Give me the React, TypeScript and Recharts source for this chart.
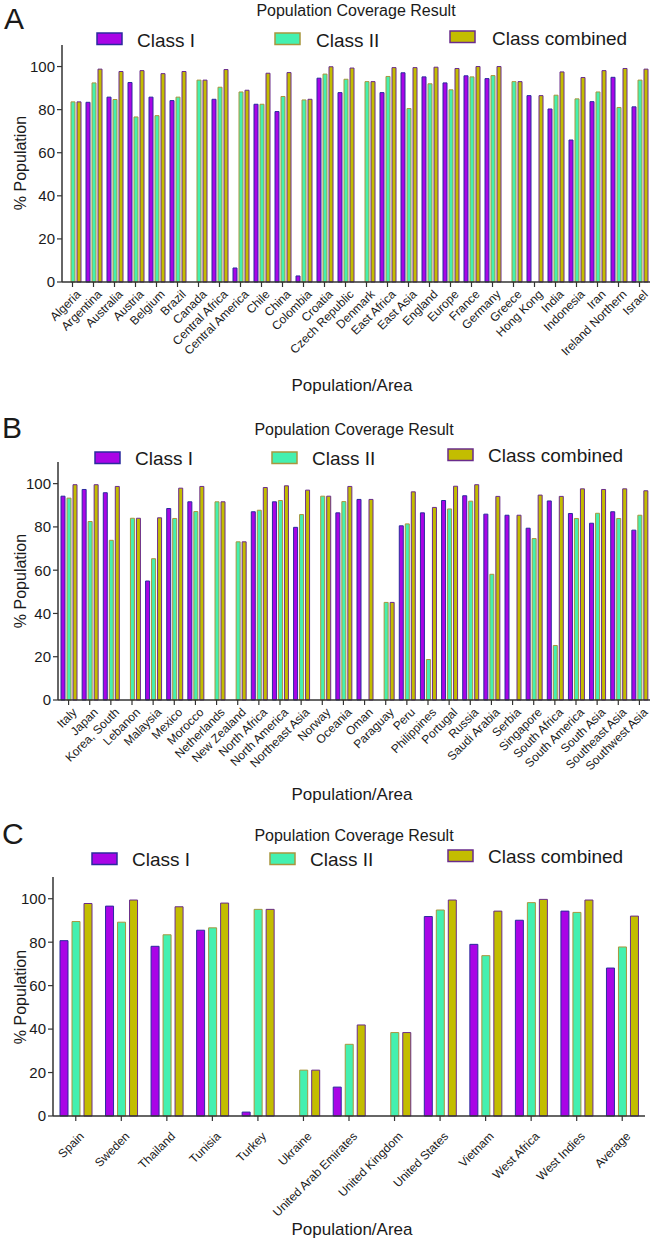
import React from 'react';
import { BarChart, Bar, XAxis, YAxis } from 'recharts';

const categoriesA = ['Algeria','Argentina','Australia','Austria','Belgium','Brazil','Canada','Central Africa','Central America','Chile','China','Colombia','Croatia','Czech Republic','Denmark','East Africa','East Asia','England','Europe','France','Germany','Greece','Hong Kong','India','Indonesia','Iran','Ireland Northern','Israel'];
const classIA = [null,83.4,85.8,92.6,85.8,84.2,null,84.8,6.5,82.5,79.1,2.8,94.6,87.9,null,87.9,97.1,95.2,92.4,95.7,94.4,null,86.5,80.3,65.9,83.7,95.0,81.3];
const classIIA = [83.6,92.4,84.7,76.6,77.2,85.8,93.7,90.4,88.2,82.5,86.1,84.5,96.5,94.1,93.0,95.4,80.5,92.0,89.2,95.2,95.8,93.0,null,86.7,85.0,88.2,81.0,93.7];
const combinedA = [83.6,98.8,97.7,98.1,96.7,97.7,93.7,98.6,89.0,96.9,97.2,84.8,99.9,99.3,93.0,99.5,99.5,99.7,99.1,100,100,93.0,86.5,97.5,94.9,98.1,99.1,98.8];

const categoriesB = ['Italy','Japan','Korea, South','Lebanon','Malaysia','Mexico','Morocco','Netherlands','New Zealand','North Africa','North America','Northeast Asia','Norway','Oceania','Oman','Paraguay','Peru','Philippines','Portugal','Russia','Saudi Arabia','Serbia','Singapore','South Africa','South America','South Asia','Southeast Asia','Southwest Asia'];
const classIB = [94.2,97.3,95.8,null,55.0,88.5,91.6,null,null,87.0,91.6,79.8,null,86.5,92.7,null,80.5,86.5,92.2,94.4,85.9,85.4,79.4,92.0,86.2,81.7,87.0,78.5];
const classIIB = [93.3,82.5,73.8,84.0,65.3,83.9,87.1,91.6,73.1,87.7,92.2,85.7,94.2,91.7,null,45.1,81.4,18.7,88.3,91.9,58.1,null,74.6,25.2,83.9,86.3,83.9,85.4];
const combinedB = [99.5,99.5,98.7,84.0,84.2,97.9,98.7,91.6,73.1,98.2,99.0,97.0,94.2,98.7,92.7,45.1,96.2,89.0,98.8,99.5,94.1,85.4,94.7,94.1,97.6,97.3,97.6,96.7];

const categoriesC = ['Spain','Sweden','Thailand','Tunisia','Turkey','Ukraine','United Arab Emirates','United Kingdom','United States','Vietnam','West Africa','West Indies','Average'];
const classIC = [80.7,96.6,78.1,85.5,1.8,null,13.3,null,91.8,79.0,90.1,94.3,68.1];
const classIIC = [89.5,89.2,83.4,86.6,95.1,21.1,33.0,38.4,94.8,73.8,98.2,93.7,77.8];
const combinedC = [97.8,99.4,96.3,98.0,95.1,21.1,41.9,38.4,99.4,94.3,99.7,99.4,92.0];

const seriesNames = ['Class I', 'Class II', 'Class combined'];
const yTicks = [0, 20, 40, 60, 80, 100];
const chartTitle = 'Population Coverage Result';
const xTitle = 'Population/Area';
const yTitle = '% Population';

const FONT = '"Liberation Sans", Arial, Helvetica, sans-serif';
const TXT = '#1a1a1a';
const STYLES = [
  { key: 'c1', fill: '#A905E6', stroke: '#2B2B9E' },
  { key: 'c2', fill: '#44F0B0', stroke: '#A8963E' },
  { key: 'c3', fill: '#C3BD00', stroke: '#6A2C8C' },
];

function build(cats: string[], a: (number | null)[], b: (number | null)[], c: (number | null)[]) {
  return cats.map((name, i) => ({ name, c1: a[i], c2: b[i], c3: c[i] }));
}

function RotTick(props: any) {
  const { x, y, payload, fs, dy } = props;
  return (
    <g transform={`translate(${x + 3},${y + dy})`}>
      <text textAnchor="end" transform="rotate(-45)" fontSize={fs} fill={TXT} fontFamily={FONT} dy="0.71em">
        {payload.value}
      </text>
    </g>
  );
}

type PanelCfg = {
  top: number; height: number; plotTop: number; zeroY: number; axisX: number; right: number;
  barSize: number; barGap: number; tickFs: number; tickDy: number; data: any[];
};

function Panel({ cfg }: { cfg: PanelCfg }) {
  const xAxisH = cfg.height - (cfg.zeroY - cfg.top);
  return (
    <div style={{ position: 'absolute', left: 0, top: cfg.top }}>
      <BarChart
        width={651}
        height={cfg.height}
        data={cfg.data}
        margin={{ top: cfg.plotTop - cfg.top, right: 651 - cfg.right, bottom: 0, left: 0 }}
        barGap={cfg.barGap}
      >
        <XAxis
          dataKey="name"
          interval={0}
          height={xAxisH}
          tickSize={5}
          tickMargin={2}
          axisLine={{ stroke: '#333', strokeWidth: 1.5 }}
          tickLine={{ stroke: '#333', strokeWidth: 1.2 }}
          tick={(p: any) => <RotTick {...p} fs={cfg.tickFs} dy={cfg.tickDy} />}
        />
        <YAxis
          width={cfg.axisX}
          domain={[0, 110]}
          ticks={yTicks}
          tickSize={5}
          tickMargin={2}
          axisLine={{ stroke: '#333', strokeWidth: 1.5 }}
          tickLine={{ stroke: '#333', strokeWidth: 1.2 }}
          tick={{ fontSize: 15, fill: TXT, fontFamily: FONT }}
        />
        {STYLES.map((s, i) => (
          <Bar key={s.key} dataKey={s.key} name={seriesNames[i]} fill={s.fill} stroke={s.stroke}
            strokeWidth={1} barSize={cfg.barSize} isAnimationActive={false} />
        ))}
      </BarChart>
    </div>
  );
}

type Deco = {
  letter: string; letterX: number; letterY: number;
  titleY: number; titleX: number;
  legend: { sx: number; sy: number; tx: number; ty: number }[];
  xTitleY: number; yTitleCy: number;
};

function Overlay({ decos }: { decos: Deco[] }) {
  return (
    <svg width={651} height={1240} style={{ position: 'absolute', left: 0, top: 0, pointerEvents: 'none' }}>
      {decos.map((d, k) => (
        <g key={k} fontFamily={FONT} fill={TXT}>
          <text x={d.letterX} y={d.letterY} fontSize={30}>{d.letter}</text>
          <text x={d.titleX} y={d.titleY} fontSize={16} textAnchor="middle">{chartTitle}</text>
          {d.legend.map((l, i) => (
            <g key={i}>
              <rect x={l.sx} y={l.sy} width={25} height={11.5} fill={STYLES[i].fill} stroke={STYLES[i].stroke} strokeWidth={1.5} />
              <text x={l.tx} y={l.ty} fontSize={19}>{seriesNames[i]}</text>
            </g>
          ))}
          <text x={352} y={d.xTitleY} fontSize={17} textAnchor="middle">{xTitle}</text>
          <text x={0} y={0} fontSize={16} textAnchor="middle" transform={`translate(26,${d.yTitleCy}) rotate(-90)`}>{yTitle}</text>
        </g>
      ))}
    </svg>
  );
}

const panels: PanelCfg[] = [
  { top: 0, height: 400, plotTop: 45, zeroY: 282, axisX: 62, right: 650, barSize: 4, barGap: 2, tickFs: 12, tickDy: 0, data: build(categoriesA, classIA, classIIA, combinedA) },
  { top: 420, height: 390, plotTop: 462, zeroY: 700, axisX: 58, right: 650, barSize: 4, barGap: 2, tickFs: 12, tickDy: 0, data: build(categoriesB, classIB, classIIB, combinedB) },
  { top: 830, height: 410, plotTop: 877, zeroY: 1116, axisX: 53, right: 645, barSize: 8, barGap: 4, tickFs: 12, tickDy: 8, data: build(categoriesC, classIC, classIIC, combinedC) },
];

const decos: Deco[] = [
  { letter: 'A', letterX: 4, letterY: 29, titleX: 356, titleY: 16,
    legend: [{ sx: 97, sy: 33, tx: 137, ty: 47 }, { sx: 275, sy: 33, tx: 316, ty: 47 }, { sx: 450, sy: 31, tx: 492, ty: 45 }],
    xTitleY: 391, yTitleCy: 163 },
  { letter: 'B', letterX: 2, letterY: 438, titleX: 354, titleY: 435,
    legend: [{ sx: 95, sy: 452, tx: 135, ty: 465 }, { sx: 272, sy: 452, tx: 312, ty: 465 }, { sx: 448, sy: 449, tx: 488, ty: 462 }],
    xTitleY: 800, yTitleCy: 581 },
  { letter: 'C', letterX: 2, letterY: 844, titleX: 354, titleY: 841,
    legend: [{ sx: 92, sy: 853, tx: 132, ty: 866 }, { sx: 270, sy: 853, tx: 310, ty: 866 }, { sx: 448, sy: 850, tx: 488, ty: 863 }],
    xTitleY: 1235, yTitleCy: 997 },
];

export default function App() {
  return (
    <div style={{ position: 'absolute', left: 0, top: 0, width: 651, height: 1240, background: '#fff', fontFamily: FONT }}>
      {panels.map((p, i) => <Panel key={i} cfg={p} />)}
      <Overlay decos={decos} />
    </div>
  );
}
